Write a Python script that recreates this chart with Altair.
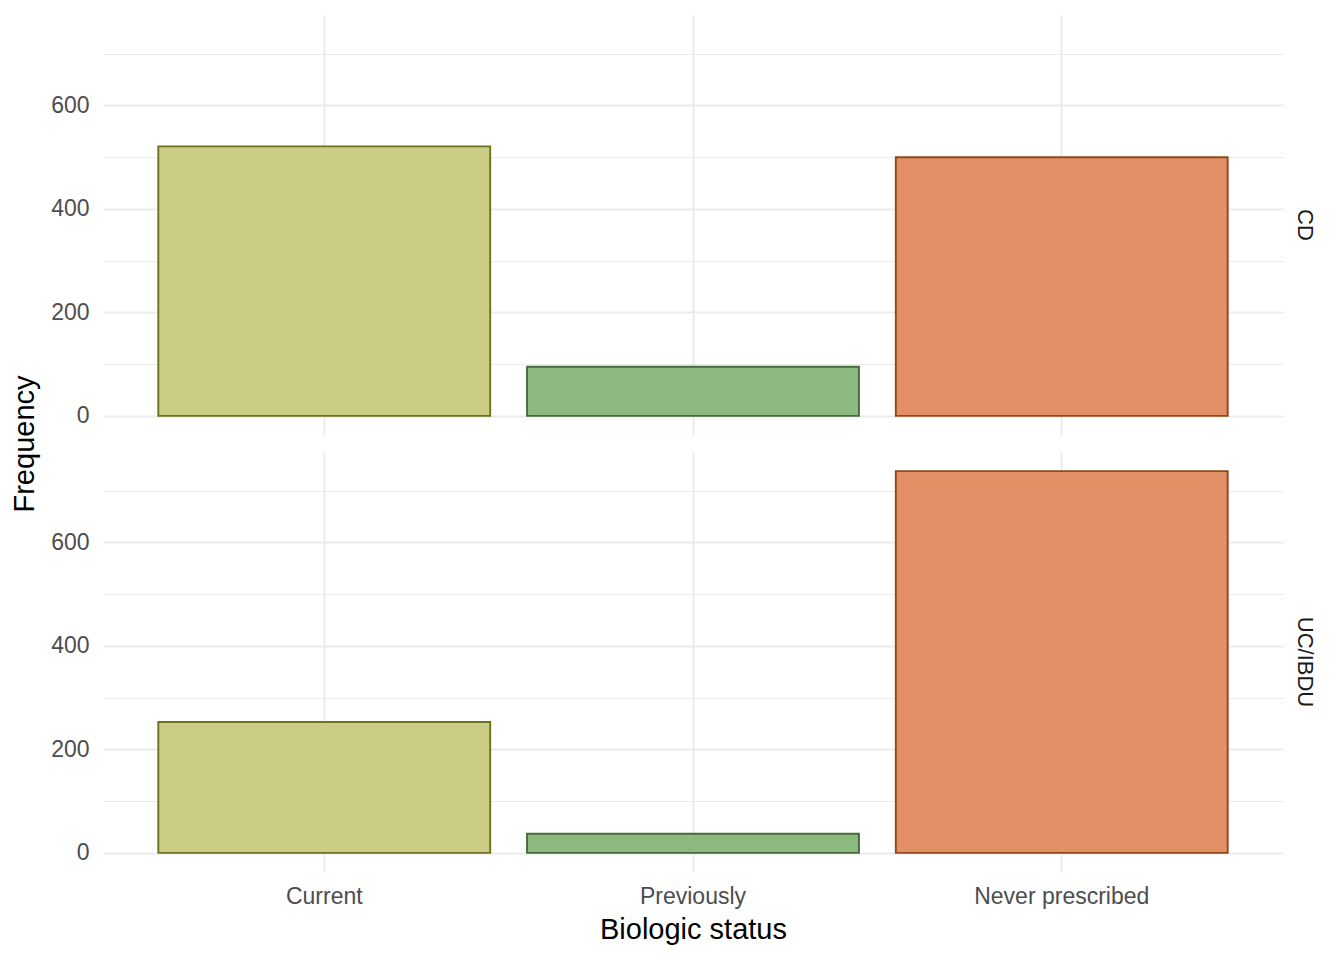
import altair as alt
import pandas as pd

groups = ["CD", "CD", "CD", "UC/IBDU", "UC/IBDU", "UC/IBDU"]
statuses = ["Current", "Previously", "Never prescribed"] * 2
counts = [521, 95, 500, 253, 37, 738]

status_order = ["Current", "Previously", "Never prescribed"]
fill_colors = ["#CBCD85", "#8DB97F", "#E39066"]
stroke_colors = ["#6E7022", "#46693D", "#8E4A1C"]
y_ticks = [0, 100, 200, 300, 400, 500, 600, 700]

df = pd.DataFrame({"group": groups, "status": statuses, "count": counts})

ymax = max(counts) * 1.05
ymin = -max(counts) * 0.05

FONT = "Liberation Sans"

base = alt.Chart().mark_bar(strokeWidth=1.9).encode(
    x=alt.X("status:N", sort=status_order, title="Biologic status",
            scale=alt.Scale(paddingInner=0.1, paddingOuter=0.15),
            axis=alt.Axis(labelAngle=0, ticks=False, domain=False, grid=True,
                          gridColor="#EBEBEB", gridWidth=2, bandPosition=0.5,
                          labelFontSize=23, labelColor="#4D4D4D", labelPadding=13,
                          titleFontSize=29, titleColor="#000000", titlePadding=7,
                          titleFontWeight="normal", labelFont=FONT, titleFont=FONT)),
    y=alt.Y("count:Q", title=None,
            scale=alt.Scale(domain=[ymin, ymax], nice=False, zero=False),
            axis=alt.Axis(values=y_ticks, ticks=False, domain=False,
                          labelExpr="datum.value % 200 === 0 ? datum.label : ''",
                          gridColor="#EBEBEB",
                          gridWidth={"condition": {"test": "datum.value % 200 === 0", "value": 2}, "value": 1.1},
                          labelFontSize=23, labelColor="#4D4D4D", labelPadding=14,
                          labelFont=FONT)),
    y2=alt.datum(0),
    fill=alt.Fill("status:N", sort=status_order,
                  scale=alt.Scale(domain=status_order, range=fill_colors), legend=None),
    stroke=alt.Stroke("status:N", sort=status_order,
                      scale=alt.Scale(domain=status_order, range=stroke_colors), legend=None),
).properties(width=1180, height=420)

chart = base.facet(
    data=df,
    row=alt.Row("group:N", title="Frequency",
                header=alt.Header(labelAngle=90, labelOrient="right", labelFontSize=22,
                                  labelColor="#1A1A1A", labelPadding=10,
                                  labelFont=FONT,
                                  titleOrient="left", titleAngle=-90, titleFontSize=29,
                                  titleFontWeight="normal", titleColor="#000000",
                                  titleFont=FONT, titlePadding=-29)),
    spacing=17,
).properties(
    padding={"left": 2, "top": 7, "right": 5, "bottom": 5}
).configure_view(stroke=None)

chart.save("out.html", embed_options={"renderer": "svg", "actions": False})
